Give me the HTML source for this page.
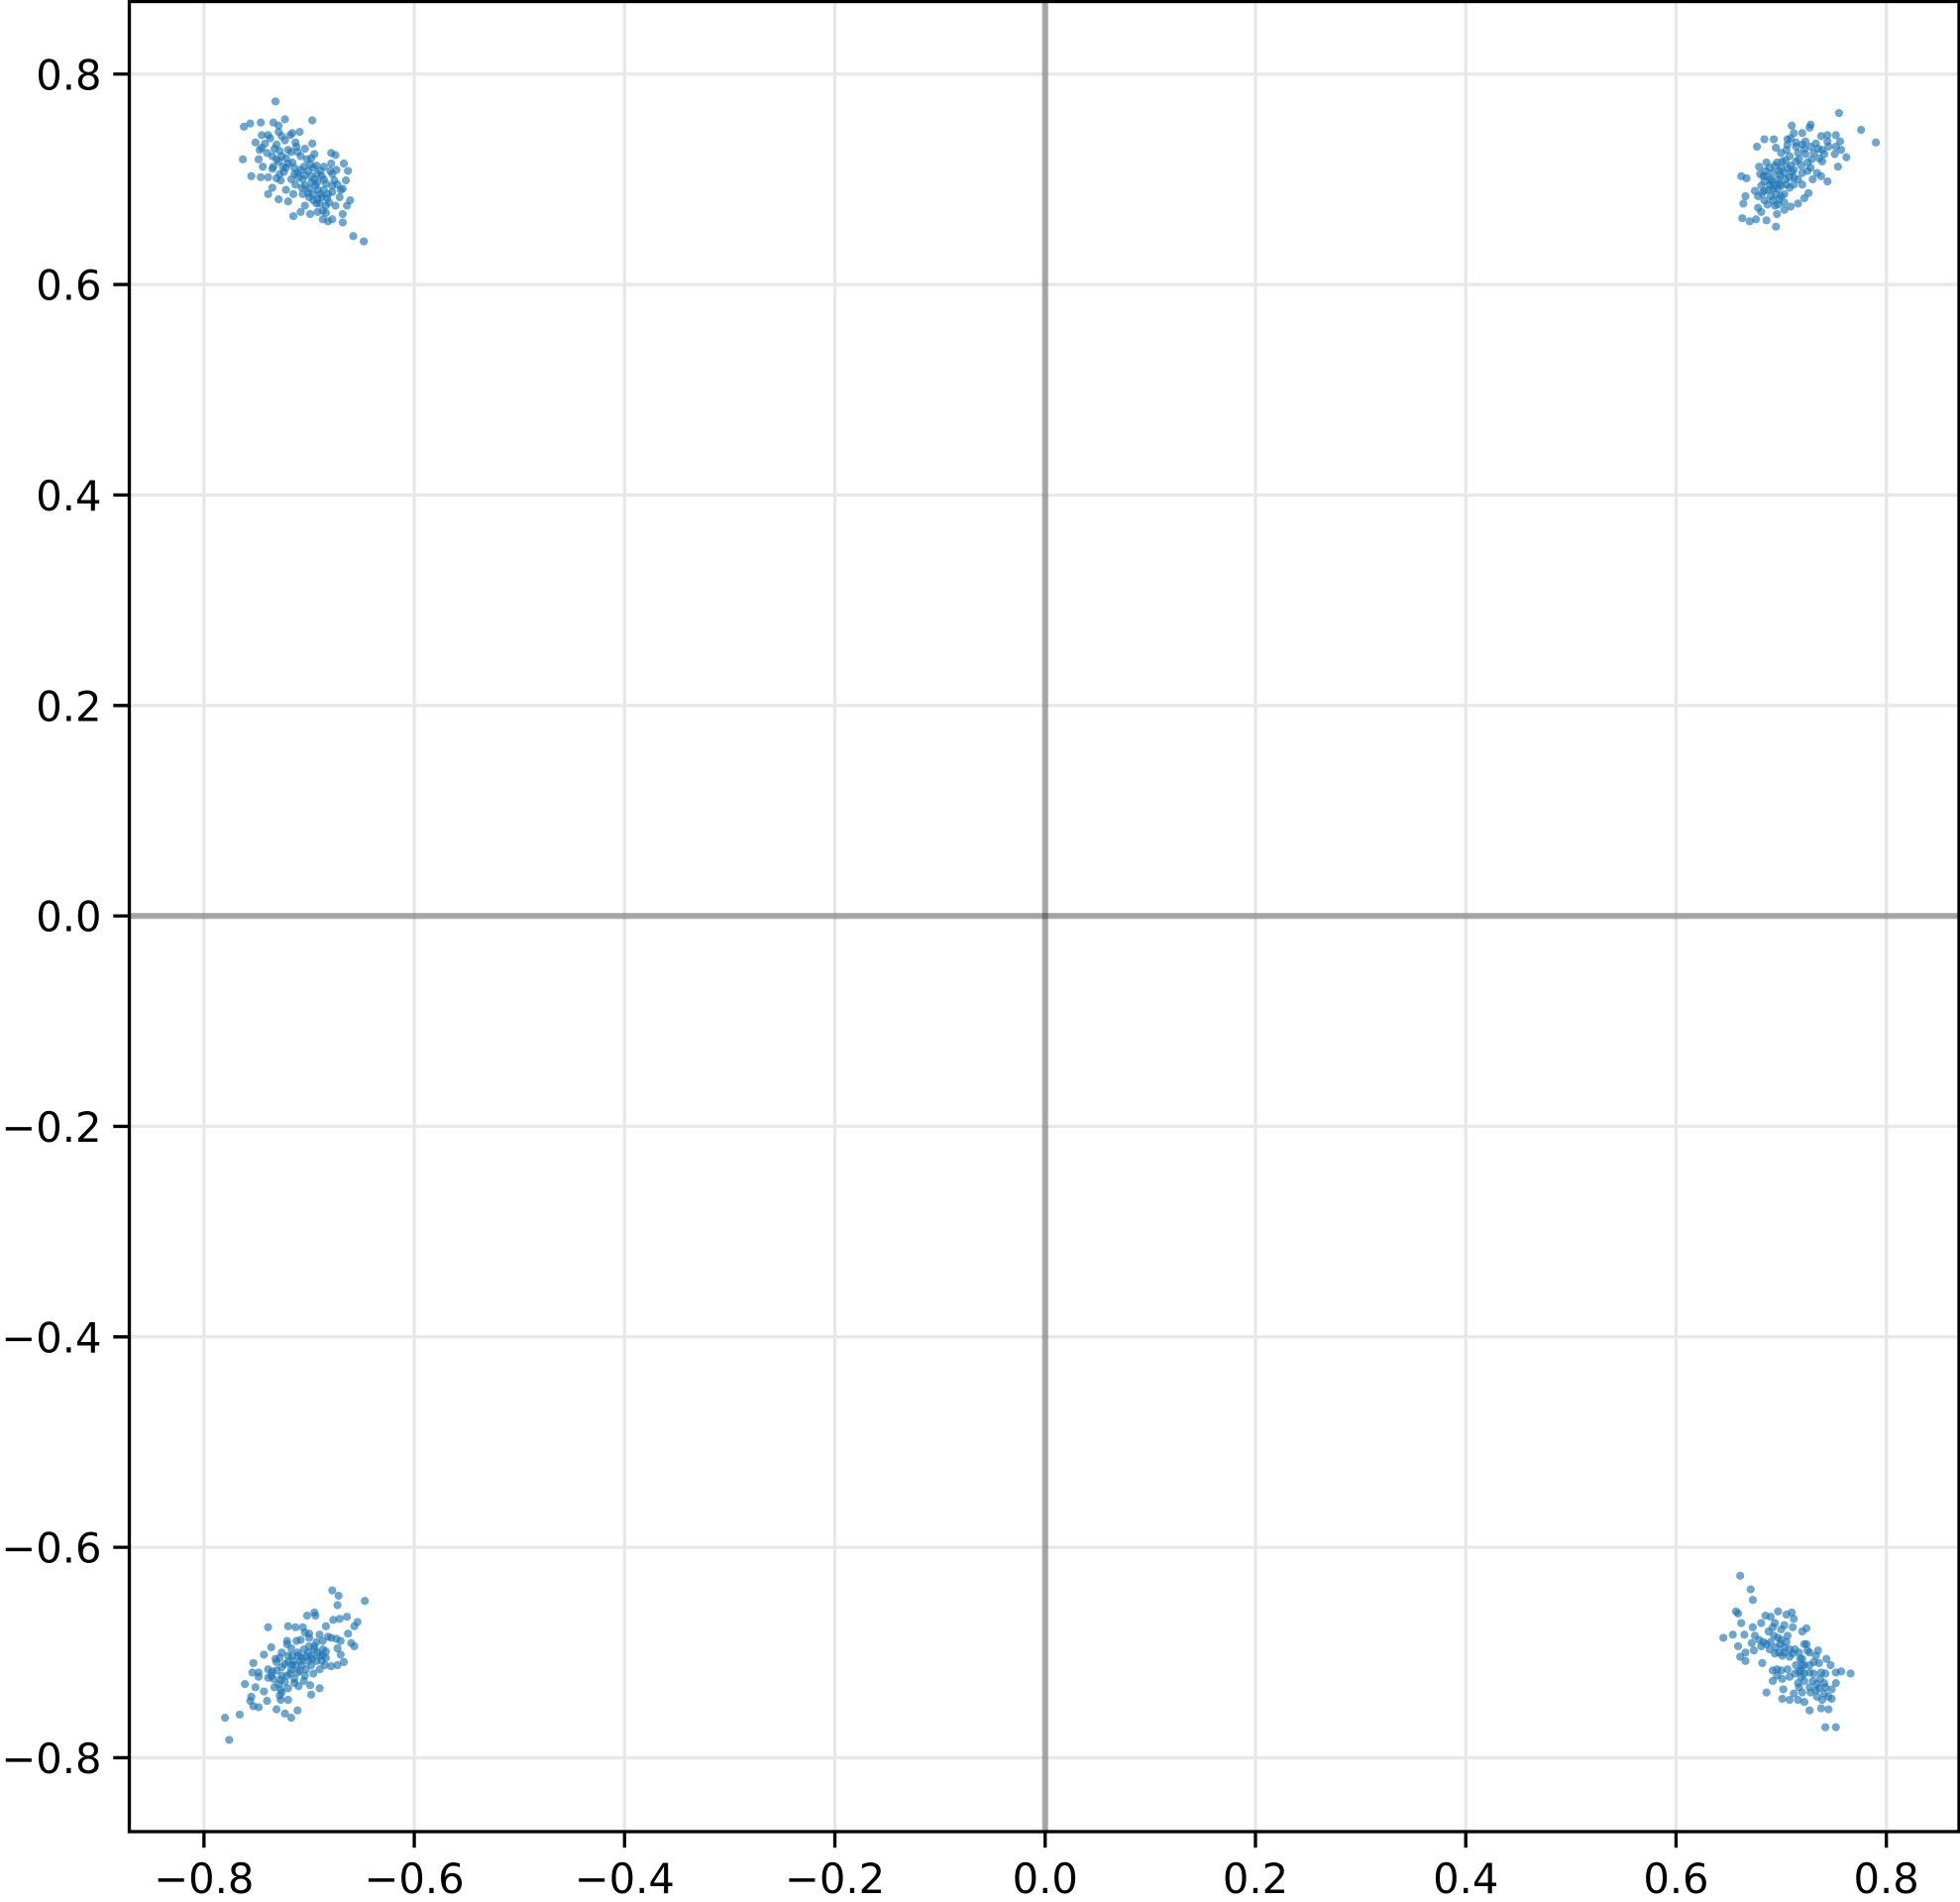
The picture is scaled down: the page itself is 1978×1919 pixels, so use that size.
<!DOCTYPE html>
<html lang="en">
<head>
<meta charset="utf-8">
<title>Scatter chart</title>
<style>
html,body{margin:0;padding:0;background:#fff;width:1978px;height:1919px;overflow:hidden}
svg{display:block}
text{font-family:"DejaVu Sans","Liberation Sans",sans-serif;font-size:41.67px;fill:#000}
</style>
</head>
<body>
<svg id="chart" xmlns="http://www.w3.org/2000/svg" width="1978" height="1919" viewBox="0 0 1978 1919"></svg>
<script>
const tickValues = [-0.8, -0.6, -0.4, -0.2, 0, 0.2, 0.4, 0.6, 0.8];
const tickLabels = ["\u22120.8", "\u22120.6", "\u22120.4", "\u22120.2", "0.0", "0.2", "0.4", "0.6", "0.8"];
const xLimits = [-0.8710, 0.8691];
const yLimits = [-0.8702, 0.8690];

const topLeftX = [-.732,-.723,-.697,-.762,-.756,-.746,-.734,-.729,-.729,-.745,-.739,-.716,-.709,-.751,-.697,-.763,-.748,-.744,-.755,-.746,-.739,-.735,-.739,-.729,-.720,-.722,-.715,-.715,-.708,-.699,-.704,-.693,-.679,-.675,-.667,-.663,-.665,-.668,-.661,-.664,-.668,-.668,-.678,-.682,-.687,-.658,-.648,-.674,-.678,-.745,-.737,-.731,-.720,-.712,-.704,-.695,-.729,-.725,-.734,-.714,-.701,-.692,-.686,-.679,-.731,-.714,-.706,-.695,-.686,-.678,-.701,-.692,-.682,-.706,-.692,-.681,-.687,-.675,-.671,-.670,-.740,-.747,-.718,-.726,-.711,-.698,-.726,-.720,-.708,-.696,-.689,-.704,-.686,-.696,-.717,-.731,-.722,-.711,-.698,-.692,-.689,-.700,-.684,-.728,-.735,-.728,-.722,-.716,-.724,-.717,-.710,-.705,-.699,-.693,-.688,-.684,-.698,-.704,-.700,-.694,-.707,-.688,-.683,-.678,-.690,-.696,-.684,-.676,-.733,-.742,-.723,-.713,-.708,-.702,-.735,-.727,-.713,-.680,-.673,-.692];
const topLeftY = [.774,.757,.756,.750,.753,.754,.754,.751,.745,.742,.742,.744,.745,.735,.734,.719,.719,.712,.703,.702,.702,.692,.686,.681,.679,.690,.686,.665,.669,.667,.675,.677,.725,.723,.715,.708,.699,.691,.680,.675,.667,.659,.662,.660,.662,.646,.641,.709,.705,.730,.739,.733,.728,.731,.729,.724,.717,.712,.712,.711,.708,.705,.712,.715,.701,.705,.700,.700,.700,.694,.687,.690,.686,.686,.681,.678,.670,.675,.683,.690,.725,.728,.742,.741,.726,.720,.722,.715,.709,.711,.708,.694,.690,.686,.726,.719,.711,.706,.703,.697,.686,.683,.675,.705,.722,.727,.720,.716,.707,.700,.702,.712,.714,.713,.703,.696,.697,.704,.691,.694,.692,.683,.682,.688,.677,.680,.668,.699,.729,.734,.737,.735,.722,.719,.710,.699,.695,.708,.695,.669];

const topRightX = [.755,.776,.790,.710,.728,.727,.752,.744,.738,.756,.752,.757,.751,.762,.754,.684,.677,.693,.695,.712,.720,.706,.662,.667,.666,.664,.663,.670,.676,.686,.695,.681,.678,.696,.703,.709,.716,.722,.726,.744,.738,.730,.679,.675,.686,.692,.683,.689,.681,.697,.703,.709,.708,.701,.717,.720,.728,.736,.739,.728,.720,.712,.705,.697,.690,.700,.684,.694,.703,.712,.720,.686,.694,.714,.731,.709,.723,.744,.739,.745,.700,.716,.723,.708,.698,.684,.692,.712,.698,.719,.705,.725,.690,.694,.699,.704,.700,.695,.688,.684,.680,.689,.696,.704,.710,.716,.708,.703,.692,.687,.678,.714,.722,.733,.729,.735,.741,.714,.706,.698,.691,.685,.700,.706,.682,.697,.725,.734];
const topRightY = [.763,.747,.735,.751,.752,.749,.742,.742,.741,.736,.731,.728,.724,.721,.712,.738,.731,.738,.730,.744,.744,.738,.703,.701,.684,.677,.663,.660,.662,.661,.655,.669,.673,.667,.671,.674,.677,.682,.687,.698,.703,.700,.712,.689,.716,.706,.703,.695,.694,.700,.706,.713,.722,.717,.719,.733,.731,.720,.717,.711,.706,.702,.695,.691,.684,.684,.680,.675,.678,.695,.695,.703,.713,.735,.725,.739,.736,.736,.728,.731,.725,.725,.724,.702,.708,.689,.691,.709,.681,.713,.728,.716,.700,.694,.704,.700,.694,.686,.690,.698,.705,.711,.716,.718,.707,.700,.692,.686,.680,.676,.684,.717,.729,.734,.719,.729,.724,.731,.733,.696,.698,.708,.711,.711,.687,.676,.708,.706];

const bottomLeftX = [-.678,-.672,-.673,-.647,-.702,-.695,-.694,-.677,-.671,-.664,-.654,-.657,-.684,-.739,-.720,-.713,-.706,-.663,-.660,-.657,-.670,-.673,-.670,-.667,-.673,-.679,-.736,-.721,-.743,-.753,-.754,-.748,-.748,-.739,-.761,-.751,-.743,-.755,-.756,-.753,-.748,-.740,-.727,-.720,-.731,-.723,-.717,-.711,-.780,-.766,-.776,-.698,-.690,-.699,-.720,-.710,-.726,-.704,-.700,-.690,-.682,-.674,-.712,-.721,-.695,-.687,-.687,-.684,-.701,-.707,-.715,-.723,-.731,-.734,-.726,-.717,-.707,-.698,-.690,-.685,-.714,-.704,-.729,-.723,-.709,-.701,-.693,-.720,-.711,-.728,-.696,-.718,-.736,-.732,-.713,-.708,-.703,-.698,-.692,-.695,-.700,-.705,-.710,-.716,-.720,-.726,-.731,-.735,-.727,-.721,-.716,-.711,-.703,-.697,-.690,-.688,-.684,-.693,-.687,-.679,-.700,-.708,-.717,-.726,-.739,-.733,-.728,-.727,-.714,-.705];
const bottomLeftY = [-.641,-.646,-.655,-.651,-.665,-.662,-.665,-.669,-.668,-.666,-.671,-.675,-.675,-.676,-.675,-.676,-.676,-.682,-.691,-.694,-.689,-.696,-.702,-.709,-.712,-.713,-.695,-.689,-.702,-.710,-.719,-.719,-.723,-.716,-.730,-.733,-.737,-.742,-.746,-.751,-.752,-.746,-.745,-.745,-.754,-.758,-.762,-.755,-.762,-.759,-.783,-.740,-.734,-.731,-.734,-.732,-.738,-.681,-.686,-.683,-.685,-.687,-.689,-.692,-.694,-.697,-.703,-.705,-.700,-.705,-.708,-.711,-.709,-.725,-.722,-.716,-.712,-.712,-.716,-.712,-.725,-.722,-.730,-.728,-.717,-.708,-.708,-.703,-.700,-.705,-.720,-.720,-.722,-.706,-.712,-.708,-.704,-.703,-.700,-.697,-.694,-.697,-.703,-.703,-.709,-.714,-.717,-.718,-.726,-.722,-.712,-.719,-.716,-.706,-.703,-.708,-.699,-.690,-.689,-.686,-.682,-.688,-.696,-.700,-.724,-.733,-.741,-.735,-.729,-.727];

const bottomRightX = [.661,.671,.673,.657,.659,.662,.645,.654,.665,.659,.661,.666,.666,.674,.682,.673,.681,.685,.690,.697,.705,.710,.712,.711,.724,.720,.724,.735,.743,.747,.752,.757,.766,.752,.742,.692,.686,.702,.701,.708,.716,.722,.727,.738,.745,.748,.742,.752,.734,.683,.689,.694,.692,.700,.706,.697,.675,.703,.711,.717,.727,.720,.731,.692,.700,.708,.719,.722,.730,.738,.736,.720,.712,.728,.741,.745,.681,.708,.714,.720,.727,.719,.734,.701,.686,.698,.722,.701,.690,.695,.699,.703,.708,.713,.718,.722,.717,.722,.727,.713,.700,.693,.688,.679,.672,.694,.703,.705,.731,.737,.741,.733,.727,.717,.706,.696,.725,.733,.736,.742,.748,.739,.696,.716];
const bottomRightY = [-.627,-.640,-.650,-.661,-.663,-.672,-.686,-.683,-.683,-.694,-.704,-.700,-.708,-.698,-.710,-.676,-.672,-.665,-.666,-.661,-.664,-.662,-.668,-.676,-.677,-.680,-.692,-.698,-.706,-.712,-.719,-.718,-.720,-.729,-.733,-.727,-.738,-.735,-.744,-.745,-.745,-.747,-.755,-.753,-.754,-.744,-.771,-.771,-.742,-.690,-.697,-.701,-.676,-.678,-.684,-.686,-.684,-.700,-.701,-.700,-.700,-.706,-.709,-.717,-.717,-.723,-.717,-.727,-.727,-.719,-.734,-.738,-.739,-.738,-.739,-.742,-.694,-.697,-.712,-.712,-.719,-.723,-.730,-.703,-.692,-.700,-.692,-.725,-.690,-.695,-.692,-.695,-.704,-.697,-.706,-.712,-.718,-.720,-.712,-.720,-.688,-.684,-.680,-.688,-.691,-.672,-.674,-.690,-.720,-.725,-.729,-.736,-.733,-.733,-.716,-.716,-.698,-.703,-.710,-.720,-.735,-.745,-.722,-.729];

const clusterNames = ["top-left", "top-right", "bottom-left", "bottom-right"];
const clusterXs = [topLeftX, topRightX, bottomLeftX, bottomRightX];
const clusterYs = [topLeftY, topRightY, bottomLeftY, bottomRightY];

const plot = { left: 130.5, right: 1977, top: 1.5, bottom: 1848 };
const svg = document.getElementById('chart');
const NS = 'http://www.w3.org/2000/svg';

function xScale(v) {
  return plot.left + (v - xLimits[0]) / (xLimits[1] - xLimits[0]) * (plot.right - plot.left);
}
function yScale(v) {
  return plot.bottom - (v - yLimits[0]) / (yLimits[1] - yLimits[0]) * (plot.bottom - plot.top);
}
function make(tag, attrs, parent) {
  const el = document.createElementNS(NS, tag);
  for (const k in attrs) el.setAttribute(k, attrs[k]);
  parent.appendChild(el);
  return el;
}

const gridColor = '#e8e8e8';
const gridGroup = make('g', {}, svg);


tickValues.forEach(function (v) {
  const vLine = make('line', { x1: xScale(v), x2: xScale(v), y1: plot.top, y2: plot.bottom, stroke: gridColor, 'stroke-width': 3.33 }, gridGroup);
  
  
  const hLine = make('line', { x1: plot.left, x2: plot.right, y1: yScale(v), y2: yScale(v), stroke: gridColor, 'stroke-width': 3.33 }, gridGroup);
  
  
});

const zeroH = make('line', { x1: plot.left, x2: plot.right, y1: yScale(0), y2: yScale(0), stroke: '#000', 'stroke-opacity': 0.3, 'stroke-width': 6.25 }, svg);


const zeroV = make('line', { x1: xScale(0), x2: xScale(0), y1: plot.top, y2: plot.bottom, stroke: '#000', 'stroke-opacity': 0.3, 'stroke-width': 6.25 }, svg);



clusterXs.forEach(function (xs, c) {
  const ys = clusterYs[c];
  const group = make('g', { fill: '#1f77b4', 'fill-opacity': 0.65 }, svg);
  
  
  xs.forEach(function (x, i) {
    const dot = make('circle', { cx: xScale(x), cy: yScale(ys[i]), r: 4.1 }, group);
    
    
  });
});

const frame = make('rect', { x: plot.left, y: plot.top, width: plot.right - plot.left, height: plot.bottom - plot.top, fill: 'none', stroke: '#000', 'stroke-width': 3.33 }, svg);



const xAxis = make('g', {}, svg);


const yAxis = make('g', {}, svg);



tickValues.forEach(function (v, i) {
  const xTick = make('line', { x1: xScale(v), x2: xScale(v), y1: plot.bottom, y2: plot.bottom + 14.6 + 1.6, stroke: '#000', 'stroke-width': 3.33 }, xAxis);
  
  
  const xLabel = make('text', { x: xScale(v), y: 1910, 'text-anchor': 'middle' }, xAxis);
  xLabel.textContent = tickLabels[i];
  
  

  const yTick = make('line', { x1: plot.left - 14.6 - 1.6, x2: plot.left, y1: yScale(v), y2: yScale(v), stroke: '#000', 'stroke-width': 3.33 }, yAxis);
  
  
  const yLabel = make('text', { x: 102.5, y: yScale(v) + 15.5, 'text-anchor': 'end' }, yAxis);
  yLabel.textContent = tickLabels[i];
  
  
});
</script>
</body>
</html>
